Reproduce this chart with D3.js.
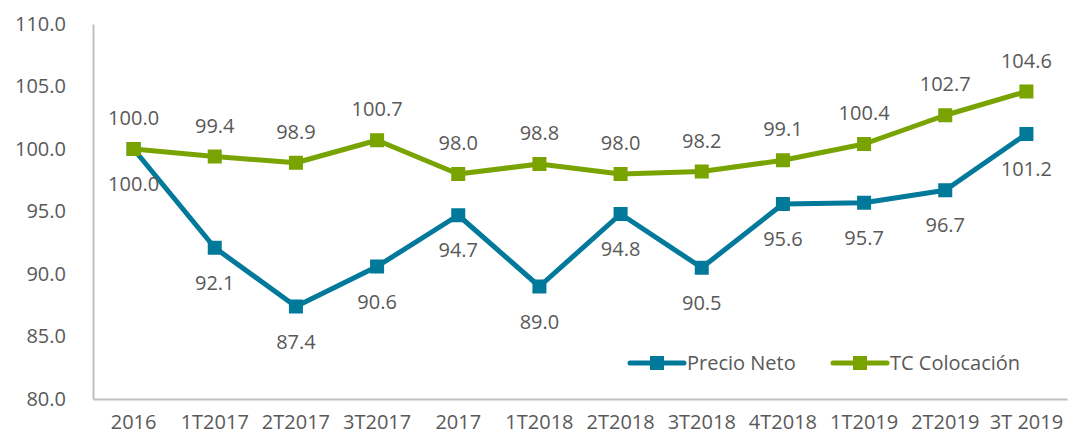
<!DOCTYPE html>
<html>
<head>
<meta charset="utf-8">
<script src="https://cdn.jsdelivr.net/npm/d3@7"></script>
<style>
  body { margin: 0; background: #fff; }
  svg text { font-family: "Open Sans", "Noto Sans", sans-serif; fill: #595959; }
</style>
</head>
<body>
<svg id="chart" width="1069" height="441"></svg>
<script>
const categories = ['2016', '1T2017', '2T2017', '3T2017', '2017', '1T2018', '2T2018', '3T2018', '4T2018', '1T2019', '2T2019', '3T 2019']
const precioNeto = [100.0, 92.1, 87.4, 90.6, 94.7, 89.0, 94.8, 90.5, 95.6, 95.7, 96.7, 101.2]
const tcColocacion = [100.0, 99.4, 98.9, 100.7, 98.0, 98.8, 98.0, 98.2, 99.1, 100.4, 102.7, 104.6]
const yTicks = [80, 85, 90, 95, 100, 105, 110]

const series = [
  { name: 'Precio Neto', values: precioNeto, color: '#00799a', labelDy: 35 },
  { name: 'TC Colocación', values: tcColocacion, color: '#78a300', labelDy: -31 }
]

const margin = { top: 24, left: 93, right: 2, bottom: 42 }
const width = 1069, height = 441
const innerwidth = width - margin.left - margin.right
const innerheight = height - margin.top - margin.bottom

const svg = d3.select('#chart')
const canvas = svg.append('g').attr('transform', `translate(${margin.left},${margin.top})`)

const xScale = d3.scaleBand().domain(categories).range([0, innerwidth])
const yScale = d3.scaleLinear().domain([80, 110]).range([innerheight, 0])
const cx = (d) => xScale(d) + xScale.bandwidth() / 2

// 坐标轴
const xAxis = d3.axisBottom(xScale).tickSize(0).tickPadding(23)
const yAxis = d3.axisLeft(yScale).tickValues(yTicks).tickSize(0).tickPadding(27).tickFormat(d3.format('.1f'))

const xg = canvas.append('g').attr('transform', `translate(0,${innerheight})`).call(xAxis)
const yg = canvas.append('g').call(yAxis)
;[xg, yg].forEach((g) => {
  g.select('.domain').attr('stroke', '#bfbfbf').attr('stroke-width', 2)
  g.selectAll('.tick text').attr('font-size', '20px').attr('fill', '#595959')
})
xg.selectAll('.tick text').attr('dy', '0.35em')

const line = d3.line().x((d, i) => cx(categories[i])).y((d) => yScale(d))

series.forEach((s) => {
  canvas.append('path')
    .datum(s.values)
    .attr('fill', 'none')
    .attr('stroke', s.color)
    .attr('stroke-width', 5)
    .attr('stroke-linejoin', 'round')
    .attr('d', line)

  canvas.selectAll(null)
    .data(s.values)
    .enter()
    .append('rect')
    .attr('x', (d, i) => cx(categories[i]) - 7)
    .attr('y', (d) => yScale(d) - 7)
    .attr('width', 14)
    .attr('height', 14)
    .attr('fill', s.color)

  canvas.selectAll(null)
    .data(s.values)
    .enter()
    .append('text')
    .attr('x', (d, i) => cx(categories[i]))
    .attr('y', (d) => yScale(d) + s.labelDy)
    .attr('dy', '0.35em')
    .attr('text-anchor', 'middle')
    .attr('font-size', '20px')
    .text((d) => d.toFixed(1))
})

// 图例
const legend = svg.append('g').attr('transform', 'translate(630,363)')
series.forEach((s, i) => {
  const g = legend.append('g').attr('transform', `translate(${i * 203},0)`)
  g.append('line').attr('x1', 0).attr('x2', 54).attr('stroke', s.color).attr('stroke-width', 5).attr('stroke-linecap', 'round')
  g.append('rect').attr('x', 20).attr('y', -7).attr('width', 14).attr('height', 14).attr('fill', s.color)
  g.append('text').attr('x', 57).attr('dy', '0.35em').attr('font-size', '20px').text(s.name)
})
</script>
</body>
</html>
